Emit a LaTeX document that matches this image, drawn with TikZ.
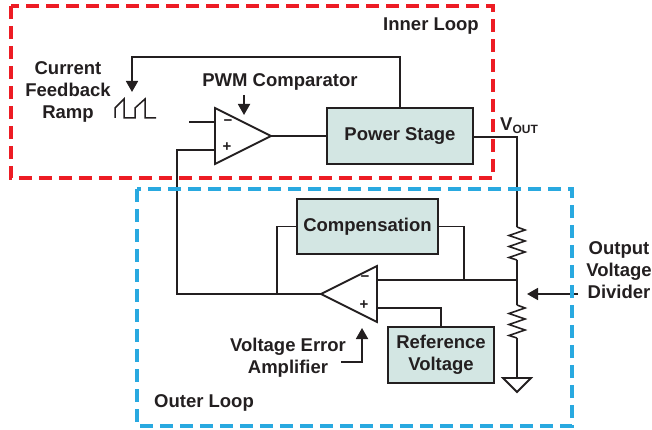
\documentclass[tikz,border=0pt]{standalone}
\usepackage{fontspec}
\setmainfont{Liberation Sans}
\usetikzlibrary{arrows.meta}
\definecolor{wire}{HTML}{231F20}
\definecolor{boxfill}{HTML}{D3E6E3}
\definecolor{inred}{HTML}{ED1C24}
\definecolor{outblue}{HTML}{29A9E0}
\newcommand\lblfont{\fontsize{18.5}{22}\selectfont\bfseries}
\newcommand\sgnfont{\fontsize{15}{15}\selectfont\bfseries}
\begin{document}
\begin{tikzpicture}[x=1pt,y=-1pt,
  wirestyle/.style={draw=wire, line width=1.8pt, line join=miter},
  blockbox/.style={draw=wire, line width=1.8pt, fill=boxfill, inner sep=0pt, font=\lblfont, text=wire, align=center},
  lbl/.style={font=\lblfont, text=wire, align=center, inner sep=0pt},
  sgn/.style={font=\sgnfont, text=wire, inner sep=0pt},
  arr/.style={wirestyle, -{Triangle[length=11pt,width=12pt]}},
  loopbox/.style={line width=3.3pt, dash pattern=on 13pt off 7pt}
]
\useasboundingbox (0,0) rectangle (652,430);

% ---- blocks
\node[blockbox, minimum width=146pt, minimum height=56pt] (ps) at (400,136) {Power Stage};
\node[blockbox, minimum width=141pt, minimum height=55pt] (comp) at (367.5,226.5) {Compensation};
\node[blockbox, minimum width=106pt, minimum height=56pt] (ref) at (441,355) {Reference\\Voltage};

% ---- PWM comparator
\coordinate (pwmm) at (215,122);
\coordinate (pwmp) at (215,150);
\coordinate (pwmo) at (271,136);
\draw[wirestyle] (215,108) -- (215,164) -- (pwmo) -- cycle;
\node[sgn] (pwmminus) at (228,123) {−};
\node[sgn] (pwmplus) at (227,147) {+};

% ---- error amplifier
\coordinate (eam) at (377,280);
\coordinate (eap) at (377,308);
\coordinate (eao) at (321,294);
\draw[wirestyle] (377,266) -- (377,322) -- (eao) -- cycle;
\node[sgn] (eaminus) at (365,279) {−};
\node[sgn] (eaplus) at (364,305) {+};

% ---- labels
\node[lbl, anchor=base] (inner) at (431,31) {Inner Loop};
\node[lbl, anchor=base] (outer) at (204,407) {Outer Loop};
\node[lbl] (cfr) at (68,91.5) {Current\\Feedback\\Ramp};
\node[lbl, anchor=base] (pwmlbl) at (280,87) {PWM Comparator};
\node[lbl] (ovd) at (619,270) {Output\\Voltage\\Divider};
\node[lbl] (vea) at (288,358) {Voltage Error\\Amplifier};
\node[lbl, anchor=base west] (vout) at (500,131) {V{\fontsize{12}{12}\selectfont\raisebox{-3pt}{OUT}}};

% ---- ramp waveform
\draw[wirestyle, line width=1.5pt] (115,118) -- (115,108) -- (124,99) -- (124,118) -- (135,118) -- (135,108) -- (145,99) -- (145,118) -- (156,118);

% ---- wires inner loop
\coordinate (fbtip) at (132,92);
\draw[wirestyle] (pwmo) -- (ps.west);
\draw[arr] (ps.north) -- (400,57) -| (fbtip);
\coordinate (pwmarrtop) at (244,95);
\coordinate (pwmarrtip) at (244,115);
\draw[arr] (pwmarrtop) -- (pwmarrtip);
\coordinate (pwmmin) at (189,122);
\draw[wirestyle] (pwmmin) -- (pwmm);
\draw[wirestyle] (pwmp) -- (177,150) -- (177,294) -- (eao);

% ---- output and divider
\coordinate (vnode) at (517,137);
\coordinate (r1top) at (517,227);
\coordinate (r1bot) at (517,260);
\coordinate (r2top) at (517,305);
\coordinate (r2bot) at (517,338);
\coordinate (gnd) at (517,378);
\draw[wirestyle] (ps.east |- vnode) -- (vnode) -- (r1top);
\draw[wirestyle, line width=1.6pt] (r1top) -- (525,230) -- (509,235.5) -- (525,241) -- (509,246.5) -- (525,252) -- (509,257.5) -- (r1bot);
\draw[wirestyle] (r1bot) -- (r2top);
\draw[wirestyle, line width=1.6pt] (r2top) -- (525,308) -- (509,313.5) -- (525,319) -- (509,324.5) -- (525,330) -- (509,335.5) -- (r2bot);
\draw[wirestyle] (r2bot) -- (gnd);
\draw[wirestyle] (503,378) -- (531,378) -- (517,392) -- cycle;

% ---- outer loop wires
\draw[wirestyle] (eam) -- (517,280);
\draw[wirestyle] (eap) -| (ref.north);
\draw[wirestyle] (comp.west) -| (277,294);
\draw[wirestyle] (comp.east) -| (464,280);

% ---- annotation arrows
\coordinate (ovdstart) at (578,294);
\coordinate (ovdtip) at (527,294);
\draw[arr] (ovdstart) -- (ovdtip);
\coordinate (veastart) at (341,362);
\coordinate (veatip) at (362,328);
\draw[arr] (veastart) -| (veatip);

% ---- loop boxes
\draw[loopbox, draw=inred] (11,6) rectangle (493,178);
\draw[loopbox, draw=outblue] (137,189) rectangle (572,426);
\end{tikzpicture}
\end{document}
